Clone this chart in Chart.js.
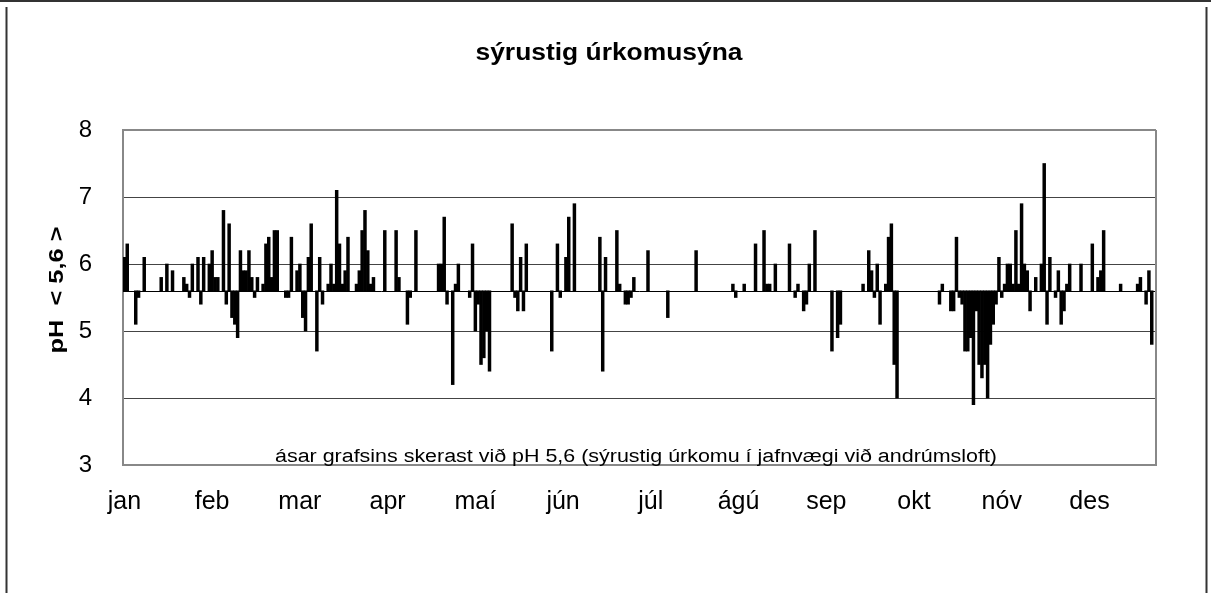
<!DOCTYPE html>
<html>
<head>
<meta charset="utf-8">
<script src="https://cdn.jsdelivr.net/npm/chart.js@4/dist/chart.umd.min.js"></script>
<style>
  html, body { margin: 0; padding: 0; background: #fff; }
  #wrap { position: relative; width: 1211px; height: 593px; }
</style>
</head>
<body>
<div id="wrap"><canvas id="chart" width="1211" height="593"></canvas></div>
<script>
// tick labels for the x axis, one every 31 days
var months = ["jan", "feb", "mar", "apr", "maí", "jún", "júl", "ágú", "sep", "okt", "nóv", "des"];
var tickEvery = 31;
var dayCount = 365;

// day of the year (0 = 1. jan) and the measured pH of the sample
var sampleDays = [
  0, 1, 4, 5, 7, 13, 15, 17, 21, 22, 23, 24, 26, 27, 28, 30, 31, 32, 33, 35,
  36, 37, 38, 39, 40, 41, 42, 43, 44, 45, 46, 47, 49, 50, 51, 52, 53, 54, 57, 58,
  59, 61, 62, 63, 64, 65, 66, 68, 69, 70, 72, 73, 74, 75, 76, 77, 78, 79, 82, 83,
  84, 85, 86, 87, 88, 92, 96, 97, 100, 101, 103, 111, 112, 113, 114, 116, 117, 118, 122, 123,
  124, 125, 126, 127, 128, 129, 137, 138, 139, 140, 141, 142, 151, 153, 154, 156, 157, 159, 168, 169,
  170, 174, 175, 177, 178, 179, 180, 185, 192, 202, 215, 216, 219, 223, 226, 227, 228, 230, 235, 237,
  238, 240, 241, 242, 244, 250, 252, 253, 261, 263, 264, 265, 266, 267, 269, 270, 271, 272, 273, 288,
  289, 292, 293, 294, 295, 296, 297, 298, 299, 300, 301, 302, 303, 304, 305, 306, 307, 308, 309, 310,
  311, 312, 313, 314, 315, 316, 317, 318, 319, 320, 322, 324, 325, 326, 327, 329, 330, 331, 332, 333,
  334, 338, 342, 344, 345, 346, 352, 358, 359, 361, 362, 363
];
var phValues = [
  6.1, 6.3, 5.1, 5.5, 6.1, 5.8, 6.0, 5.9, 5.8, 5.7, 5.5, 6.0, 6.1, 5.4, 6.1, 6.0, 6.2, 5.8, 5.8, 6.8,
  5.4, 6.6, 5.2, 5.1, 4.9, 6.2, 5.9, 5.9, 6.2, 5.8, 5.5, 5.8, 5.7, 6.3, 6.4, 5.8, 6.5, 6.5, 5.5, 5.5,
  6.4, 5.9, 6.0, 5.2, 5.0, 6.1, 6.6, 4.7, 6.1, 5.4, 5.7, 6.0, 5.7, 7.1, 6.3, 5.7, 5.9, 6.4, 5.7, 5.9,
  6.5, 6.8, 6.2, 5.7, 5.8, 6.5, 6.5, 5.8, 5.1, 5.5, 6.5, 6.0, 6.0, 6.7, 5.4, 4.2, 5.7, 6.0, 5.5, 6.3,
  5.0, 5.4, 4.5, 4.6, 5.0, 4.4, 6.6, 5.5, 5.3, 6.1, 5.3, 6.3, 4.7, 6.3, 5.5, 6.1, 6.7, 6.9, 6.4, 4.4,
  6.1, 6.5, 5.7, 5.4, 5.4, 5.5, 5.8, 6.2, 5.2, 6.2, 5.7, 5.5, 5.7, 6.3, 6.5, 5.7, 5.7, 6.0, 6.3, 5.5,
  5.7, 5.3, 5.4, 6.0, 6.5, 4.7, 4.9, 5.1, 5.7, 6.2, 5.9, 5.5, 6.0, 5.1, 5.7, 6.4, 6.6, 4.5, 4.0, 5.4,
  5.7, 5.3, 5.3, 6.4, 5.5, 5.4, 4.7, 4.7, 4.9, 3.9, 5.3, 4.5, 4.3, 4.5, 4.0, 4.8, 5.1, 5.4, 6.1, 5.5,
  5.7, 6.0, 6.0, 5.7, 6.5, 5.7, 6.9, 6.0, 5.9, 5.3, 5.8, 6.0, 7.5, 5.1, 6.1, 5.5, 5.9, 5.1, 5.3, 5.7,
  6.0, 6.0, 6.3, 5.8, 5.9, 6.5, 5.7, 5.7, 5.8, 5.4, 5.9, 4.8
];

var neutralPh = 5.6;   // the axes cross here
var yTicks = [3, 4, 5, 6, 7, 8];

var labels = [];
var bars = [];
for (var d = 0; d < dayCount; d++) {
  labels.push(d);
  bars.push(null);
}
sampleDays.forEach(function (day, i) {
  bars[day] = [neutralPh, phValues[i]];
});

var FONT = "'Liberation Sans', Arial, sans-serif";

// the original text is a bit wider than Liberation Sans, stretch it to width
function wideText(ctx, text, x, y, width) {
  var w = ctx.measureText(text).width;
  ctx.save();
  ctx.translate(x, y);
  ctx.scale(width / w, 1);
  ctx.fillText(text, 0, 0);
  ctx.restore();
}

var extras = {
  id: "extras",
  beforeDatasetsDraw: function (chart) {
    var ctx = chart.ctx;
    var a = chart.chartArea;
    var y = chart.scales.y.getPixelForValue(neutralPh);
    ctx.save();
    ctx.strokeStyle = "#000";
    ctx.lineWidth = 1;
    ctx.beginPath();
    ctx.moveTo(a.left, Math.round(y) + 0.5);
    ctx.lineTo(a.right, Math.round(y) + 0.5);
    ctx.stroke();
    ctx.restore();
  },
  afterDraw: function (chart) {
    var ctx = chart.ctx;
    var a = chart.chartArea;
    ctx.save();
    // plot frame, right side
    ctx.strokeStyle = "#888";
    ctx.lineWidth = 2;
    ctx.beginPath();
    ctx.moveTo(a.right, a.top);
    ctx.lineTo(a.right, a.bottom);
    ctx.stroke();
    // outer chart frame
    ctx.strokeStyle = "#333";
    ctx.lineWidth = 2;
    ctx.beginPath();
    ctx.moveTo(0, 1);
    ctx.lineTo(chart.width, 1);
    ctx.moveTo(6.5, 7);
    ctx.lineTo(6.5, chart.height);
    ctx.moveTo(chart.width - 4.5, 7);
    ctx.lineTo(chart.width - 4.5, chart.height);
    ctx.stroke();

    ctx.fillStyle = "#000";
    ctx.textAlign = "center";
    // title
    ctx.font = "bold 23px " + FONT;
    ctx.textBaseline = "middle";
    wideText(ctx, "sýrustig úrkomusýna", 609, 54, 267);
    // note inside the plot
    ctx.font = "18px " + FONT;
    ctx.textBaseline = "alphabetic";
    wideText(ctx, "ásar grafsins skerast við pH 5,6 (sýrustig úrkomu í jafnvægi við andrúmsloft)", 636, a.bottom - 3, 722);
    // y axis title
    ctx.translate(57, 290);
    ctx.rotate(-Math.PI / 2);
    ctx.font = "bold 21px " + FONT;
    ctx.textBaseline = "middle";
    wideText(ctx, "pH  < 5,6 >", 0, 0, 127);
    ctx.restore();
  }
};

new Chart(document.getElementById("chart").getContext("2d"), {
  type: "bar",
  data: {
    labels: labels,
    datasets: [{
      label: "pH",
      data: bars,
      backgroundColor: "#000",
      borderWidth: 0,
      barPercentage: 1,
      categoryPercentage: 1,
      grouped: false
    }]
  },
  options: {
    responsive: false,
    animation: false,
    layout: { padding: { left: 0, right: 55, top: 130, bottom: 0 } },
    plugins: {
      legend: { display: false },
      title: { display: false },
      tooltip: { enabled: false }
    },
    scales: {
      x: {
        grid: { display: false, drawTicks: false },
        border: { display: true, color: "#888", width: 2 },
        ticks: {
          autoSkip: false,
          maxRotation: 0,
          padding: 22,
          color: "#000",
          font: { family: FONT, size: 25 },
          callback: function (value, index) {
            return index % tickEvery === 0 ? months[index / tickEvery] : "";
          }
        },
        afterFit: function (scale) { scale.height = 128; }
      },
      y: {
        min: 3,
        max: 8,
        afterBuildTicks: function (scale) {
          scale.ticks = yTicks.map(function (v) { return { value: v }; });
        },
        grid: {
          drawTicks: false,
          color: function (c) {
            return (c.tick && (c.tick.value === 3 || c.tick.value === 8)) ? "#888" : "#444";
          },
          lineWidth: function (c) {
            return (c.tick && (c.tick.value === 3 || c.tick.value === 8)) ? 2 : 1;
          }
        },
        border: { display: true, color: "#888", width: 2 },
        ticks: {
          padding: 31,
          color: "#000",
          font: { family: FONT, size: 24 }
        },
        afterFit: function (scale) { scale.width = 123; }
      }
    }
  },
  plugins: [extras]
});
</script>
</body>
</html>
